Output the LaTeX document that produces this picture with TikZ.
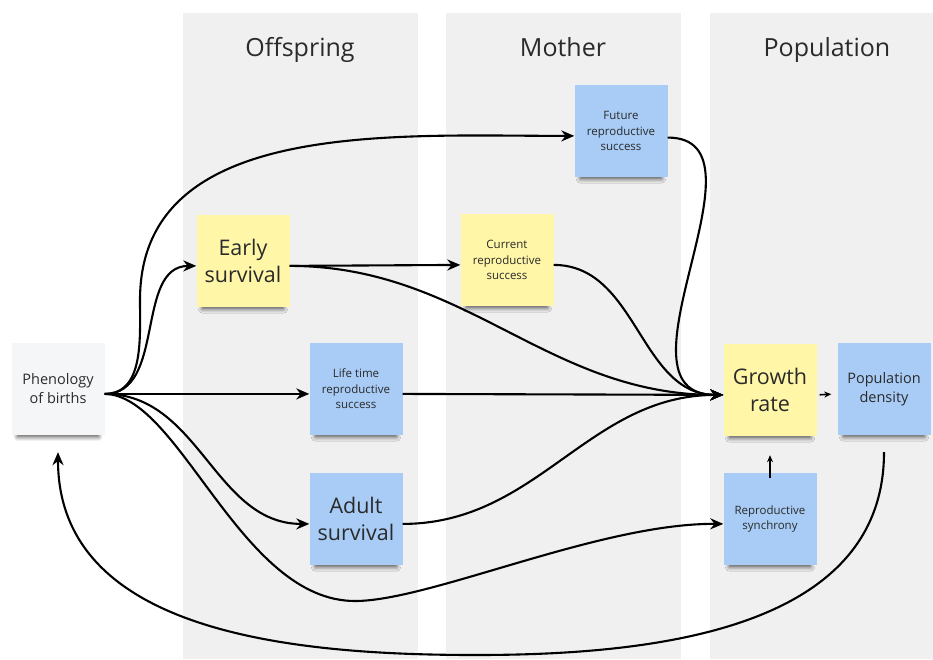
\documentclass[tikz,border=0pt]{standalone}
\usepackage{fontspec}
\setmainfont{Open Sans}
\usetikzlibrary{arrows.meta,shadows.blur}

\definecolor{column}{HTML}{F0F0F0}
\definecolor{noteyellow}{HTML}{FFF6A8}
\definecolor{noteblue}{HTML}{A8CCF5}
\definecolor{notewhite}{HTML}{F5F6F8}
\definecolor{ink}{HTML}{2A2A2A}

\tikzset{
  sticky/.style={minimum width=93pt, minimum height=92pt, inner sep=0pt,
    align=center, text=ink,
    blur shadow={shadow xshift=0pt, shadow yshift=-9pt, shadow scale=0.87,
      shadow blur radius=5pt, shadow blur steps=8, shadow opacity=70}},
  big/.style={font=\fontsize{21.5}{27.5}\selectfont},
  mid/.style={font=\fontsize{14.5}{19}\selectfont},
  small/.style={font=\fontsize{11.5}{15.6}\selectfont},
  header/.style={font=\fontsize{25}{29}\selectfont, text=ink, anchor=base},
  link/.style={line width=2.1pt, -{Stealth[length=13pt,width=11pt]}},
  tiny link/.style={line width=1.6pt, -{Stealth[length=7pt,width=6pt]}}
}

\begin{document}
\begin{tikzpicture}[x=1pt,y=-1pt]

        \useasboundingbox (0,0) rectangle (933,659);

        % columns
        \fill[column] (183,13) rectangle (418,659);
        \fill[column] (446,13) rectangle (681,659);
        \fill[column] (710,13) rectangle (933,659);

        \node[header] (offhead) at (300,56) {Offspring};
        \node[header] (mothead) at (563,56) {Mother};
        \node[header] (pophead) at (827,56) {Population};

        \begin{scope}[every node/.style={sticky}]
          \node[fill=notewhite,mid]   (phen)   at (58,389)  {Phenology\\of births};
          \node[fill=noteyellow,big]  (early)  at (243,261) {Early\\survival};
          \node[fill=noteyellow,small] (curr)  at (507,260) {Current\\reproductive\\success};
          \node[fill=noteblue,small]  (fut)    at (621,131) {Future\\reproductive\\success};
          \node[fill=noteblue,small]  (life)   at (356,389) {Life time\\reproductive\\success};
          \node[fill=noteblue,big]    (adult)  at (356,519) {Adult\\survival};
          \node[fill=noteyellow,big]  (growth) at (770,390) {Growth\\rate};
          \node[fill=noteblue,mid]    (popd)   at (884,389) {Population\\density};
          \node[fill=noteblue,small]  (sync)   at (770,519) {Reproductive\\synchrony};
        \end{scope}

        \coordinate (bend) at (140,300);
        \coordinate (dip)  at (355,601);
        \coordinate (loop) at (476,655);

        \begin{scope}[every edge/.style={draw,link}]
          \path (phen.-6)  edge[out=0,in=180] (early.186);
          \path (phen.-6)  edge (life.186);
          \path (phen.-6)  edge[out=0,in=180] (adult.186);
          \path (early.-6) edge (curr.186);
          \path (early.-6) edge[out=0,in=180] (growth.186);
          \path (curr.-6)  edge[out=0,in=180] (growth.186);
          \path (life.-6)  edge (growth.186);
          \path (adult.-6) edge[out=0,in=180] (growth.186);
        \end{scope}

        \draw[link] (phen.-6) to[out=0,in=-90] (bend) to[out=90,in=180] (fut.186);
        \draw[link] (phen.-6) .. controls (180,395) and (240,601) .. (dip)
                    .. controls (430,601) and (600,523) .. (sync.186);
        \draw[link] (fut.-8) .. controls +(110,0) and +(-120,0) .. (growth.186);
        \draw[link] ([yshift=-17pt]popd.south) to[out=-90,in=0] (loop)
                    to[out=180,in=-90] ([yshift=-17pt]phen.south);

        \draw[tiny link, shorten <=3pt, shorten >=6pt] (growth.-6) -- (popd.186);
        \draw[tiny link, shorten <=-5pt, shorten >=19pt] (sync) -- (growth);

\end{tikzpicture}
\end{document}
